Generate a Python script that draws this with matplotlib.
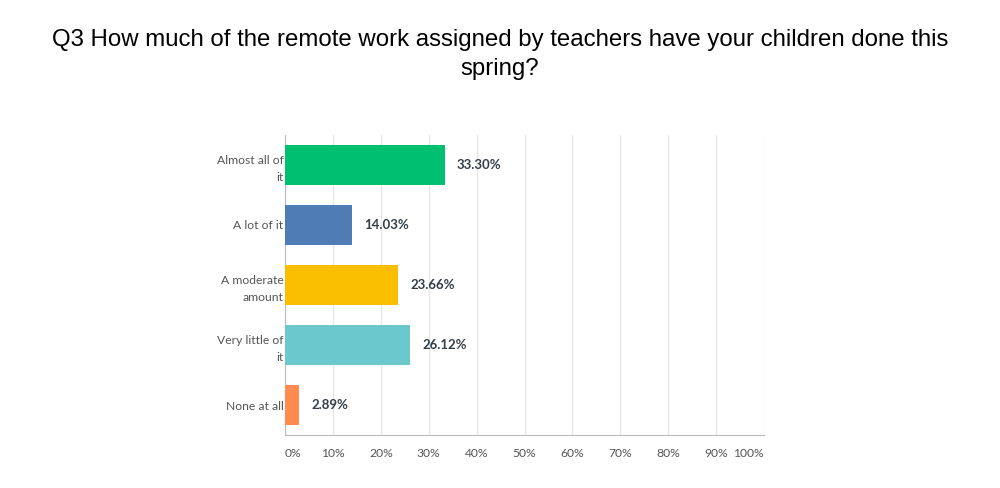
import matplotlib
matplotlib.use("Agg")
import matplotlib.pyplot as plt

categories = ["Almost all of\nit", "A lot of it", "A moderate\namount", "Very little of\nit", "None at all"]
values = [33.30, 14.03, 23.66, 26.12, 2.89]
colors = ["#00BF6F", "#507CB6", "#F9BE00", "#6BC8CD", "#FF8B4F"]
tick_vals = list(range(0, 101, 10))
tick_labels = [f"{t}%" for t in tick_vals]

fig = plt.figure(figsize=(10, 4.88), dpi=100)
ax = fig.add_axes([0.285, 0.1086, 0.479, 0.6148])

ypos = range(len(categories))
ax.barh(ypos, values, height=0.667, color=colors, zorder=3)
for y, v in zip(ypos, values):
    ax.text(v + 2.6, y, f"{v:.2f}%", va="center", ha="left", fontsize=9.5,
            fontweight="bold", color="#333e48", family="Lato")

ax.set_xlim(0, 100)
ax.set_ylim(4.5, -0.5)
ax.set_yticks(list(ypos))
ax.set_yticklabels(categories, fontsize=8.7, color="#555555", family="Lato",
                   linespacing=1.65)
ax.set_xticks(tick_vals)
ax.set_xticklabels(tick_labels, fontsize=8.7, color="#555555", family="Lato")
lbls = ax.get_xticklabels()
lbls[0].set_ha("left")
lbls[-1].set_ha("right")
ax.tick_params(axis="both", length=0)
ax.tick_params(axis="x", pad=9)
ax.tick_params(axis="y", pad=1)
ax.grid(axis="x", color="#e6e6e6", linewidth=1, zorder=0)
for s in ["top", "right"]:
    ax.spines[s].set_visible(False)
ax.spines["left"].set_color("#bbbbbb")
ax.spines["bottom"].set_color("#bbbbbb")

fig.suptitle("Q3 How much of the remote work assigned by teachers have your children done this\nspring?",
             y=0.94, fontsize=17.3, family="Liberation Sans", color="#000000",
             linespacing=1.4)

fig.savefig("out.png", dpi=100, facecolor="white")
